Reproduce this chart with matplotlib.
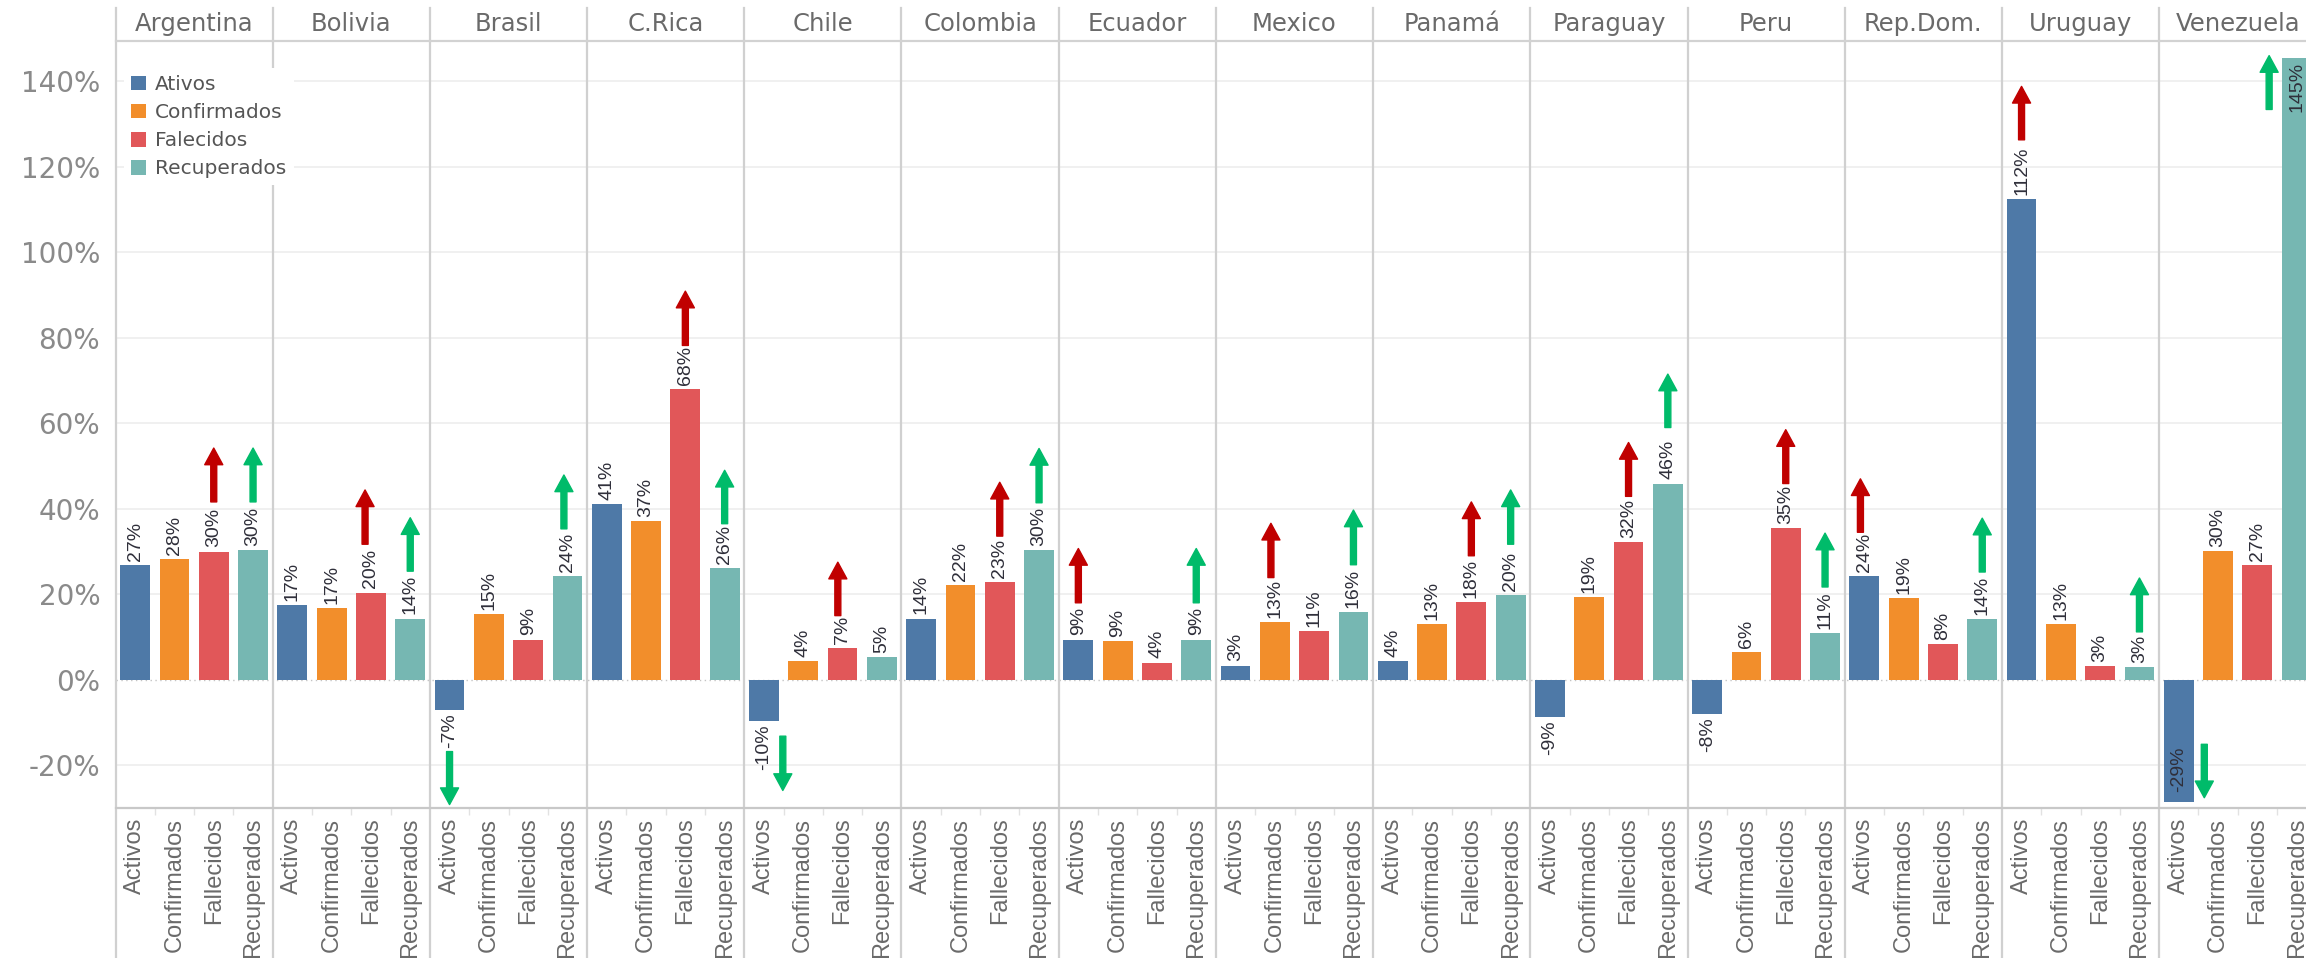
import matplotlib
matplotlib.use("Agg")
import matplotlib.pyplot as plt
from matplotlib.patches import Patch
from matplotlib.lines import Line2D
import numpy as np

plt.rcParams['font.family'] = ['DejaVu Sans']

# datos (variación %)
countries = ["Argentina", "Bolivia", "Brasil", "C.Rica", "Chile", "Colombia", "Ecuador",
             "Mexico", "Panamá", "Paraguay", "Peru", "Rep.Dom.", "Uruguay", "Venezuela"]
series = ["Activos", "Confirmados", "Fallecidos", "Recuperados"]
legend_labels = ["Ativos", "Confirmados", "Falecidos", "Recuperados"]

activos = [26.8, 17.4, -7.1, 41.0, -9.7, 14.3, 9.4, 3.3, 4.4, -8.8, -8.1, 24.3, 112.4, -28.6]
confirmados = [28.3, 16.7, 15.4, 37.2, 4.4, 22.1, 9.1, 13.4, 13.1, 19.4, 6.4, 19.1, 13.0, 30.1]
fallecidos = [30.0, 20.4, 9.4, 68.0, 7.4, 22.8, 4.0, 11.4, 18.2, 32.3, 35.4, 8.4, 3.1, 26.8]
recuperados = [30.4, 14.3, 24.3, 26.1, 5.3, 30.4, 9.4, 15.8, 19.9, 45.9, 10.9, 14.2, 2.9, 145.4]

# flechas de tendencia: país, serie, desde, hasta (%)
arrow_country = ["Argentina", "Argentina", "Bolivia", "Bolivia", "Brasil", "Brasil",
                 "C.Rica", "C.Rica", "Chile", "Chile", "Colombia", "Colombia",
                 "Ecuador", "Ecuador", "Mexico", "Mexico", "Panamá", "Panamá",
                 "Paraguay", "Paraguay", "Peru", "Peru", "Rep.Dom.", "Rep.Dom.",
                 "Uruguay", "Uruguay", "Venezuela", "Venezuela"]
arrow_series = ["Fallecidos", "Recuperados", "Fallecidos", "Recuperados", "Activos", "Recuperados",
                "Fallecidos", "Recuperados", "Activos", "Fallecidos", "Fallecidos", "Recuperados",
                "Activos", "Recuperados", "Confirmados", "Recuperados", "Fallecidos", "Recuperados",
                "Fallecidos", "Recuperados", "Fallecidos", "Recuperados", "Activos", "Recuperados",
                "Activos", "Recuperados", "Activos", "Recuperados"]
arrow_from = [41.6, 41.6, 31.7, 25.4, -16.8, 35.3, 78.2, 36.5, -13.2, 15.0, 33.6, 41.4,
              18.0, 18.0, 23.9, 26.9, 29.0, 31.7, 42.9, 59.0, 45.9, 21.7, 34.5, 25.2,
              126.3, 11.2, -15.1, 133.4]
arrow_to = [54.2, 54.2, 44.4, 37.9, -29.2, 47.9, 90.9, 49.0, -25.9, 27.5, 46.2, 54.1,
            30.7, 30.7, 36.6, 39.7, 41.6, 44.4, 55.5, 71.5, 58.5, 34.3, 47.0, 37.8,
            138.8, 23.8, -27.6, 146.0]

values = [activos, confirmados, fallecidos, recuperados]
colors = ["#4e79a7", "#f28e2b", "#e15759", "#76b7b2"]

# desplazamiento horizontal de algunas flechas (en anchos de barra)
arrow_dx = {("Bolivia", "Fallecidos"): -0.15, ("Chile", "Activos"): 0.48,
            ("Chile", "Fallecidos"): -0.12, ("Venezuela", "Activos"): 0.65,
            ("Venezuela", "Recuperados"): -0.7, ("Rep.Dom.", "Activos"): -0.1,
            ("Mexico", "Confirmados"): -0.1, ("Brasil", "Recuperados"): -0.09}

W, H = 2306, 958
x0, ytop, ybot = 115.5, 41, 808
slot = 39.3
px_per = 4.275

fig = plt.figure(figsize=(W / 100, H / 100), dpi=100)
ax = fig.add_axes([x0 / W, (H - ybot) / H, (W - x0) / W, (ybot - ytop) / H])
ax.set_xlim(-0.5, -0.5 + (W - x0) / slot)
ymin = -30
ymax = ymin + (ybot - ytop) / px_per
ax.set_ylim(ymin, ymax)

# rejilla
for v in range(-20, 141, 20):
    if v == 0:
        ax.axhline(0, color="#c4c4c4", lw=1, ls=(0, (1, 2.5)), zorder=1)
    else:
        ax.axhline(v, color="#efefef", lw=1.3, zorder=0)

rot_font = ["Liberation Sans", "DejaVu Sans"]
lab_kw = dict(rotation=90, ha="center", fontsize=14, family=rot_font,
              color="#2f2f3a", zorder=3, textcoords="offset points")
n = len(countries)
for j, vals in enumerate(values):
    xs = np.arange(n) * 4 + j
    ax.bar(xs, vals, width=0.76, color=colors[j], zorder=2)
    for x, v in zip(xs, vals):
        lab = f"{v:.0f}%"
        if v >= 0:
            if v + 10 > ymax:
                ax.annotate(lab, (x, v), xytext=(0, -3), va="top", **lab_kw)
            else:
                ax.annotate(lab, (x, v), xytext=(0, 3), va="bottom", **lab_kw)
        else:
            if v - 10 < ymin:
                ax.annotate(lab, (x, v), xytext=(0, 7), va="bottom", **lab_kw)
            else:
                ax.annotate(lab, (x, v), xytext=(0, -2), va="top", **lab_kw)

# flechas
for c, s, y0, y1 in zip(arrow_country, arrow_series, arrow_from, arrow_to):
    x = countries.index(c) * 4 + series.index(s) + arrow_dx.get((c, s), 0)
    up = y1 > y0
    good = (s == "Recuperados" and up) or (s == "Activos" and not up)
    col = "#00bb6a" if good else "#c00000"
    ax.annotate("", xy=(x, y1), xytext=(x, y0),
                arrowprops=dict(color=col, width=4.3, headwidth=13, headlength=12, shrink=0),
                annotation_clip=False, zorder=4)

# separadores de paneles y cabeceras
trans = ax.get_xaxis_transform()
y_lo = -(H - ybot) / (ybot - ytop)
y_hi = 1 + (ytop - 8) / (ybot - ytop)
for k in range(n):
    xl = 4 * k - 0.5
    ax.add_line(Line2D([xl, xl], [y_lo, y_hi], transform=trans, color="#d0d0d0",
                       lw=1.6, clip_on=False, zorder=1.5))
    ax.text(4 * k + 1.5, 1 + (ytop - 24) / (ybot - ytop), countries[k], transform=trans,
            ha="center", va="center", fontsize=17.5, color="#6a6a6a", clip_on=False)

for side in ["left", "right"]:
    ax.spines[side].set_visible(False)
ax.spines["top"].set_color("#d2d2d2")
ax.spines["top"].set_linewidth(1.6)
ax.spines["bottom"].set_color("#c8c8c8")
ax.spines["bottom"].set_linewidth(1.6)

# ejes
ax.set_xticks(np.arange(n * 4))
ax.set_xticklabels(series * n, rotation=90, fontsize=17, family=rot_font, color="#6a6a6a")
ax.tick_params(axis="x", which="major", length=0, pad=7)
minor = [i + 0.5 for i in range(n * 4) if (i + 1) % 4 != 0]
ax.set_xticks(minor, minor=True)
ax.tick_params(axis="x", which="minor", length=5, color="#e2e2e2", width=1)

yt = list(range(-20, 141, 20))
ax.set_yticks(yt)
ax.set_yticklabels([f"{v}%" for v in yt], fontsize=20, color="#8a8a8a")
ax.tick_params(axis="y", length=0, pad=11)

handles = [Patch(facecolor=c, edgecolor="none") for c in colors]
leg = ax.legend(handles, legend_labels, loc="upper left", bbox_to_anchor=(124 / W, 1 - 68 / H),
                bbox_transform=fig.transFigure, frameon=True, fancybox=False, framealpha=1,
                edgecolor="none", fontsize=14.5, handlelength=0.75, handleheight=0.75,
                handletextpad=0.45, labelspacing=0.45, borderpad=0.35, borderaxespad=0)
for t in leg.get_texts():
    t.set_color("#555555")
leg.set_zorder(10)

fig.savefig("out.png", dpi=100)
